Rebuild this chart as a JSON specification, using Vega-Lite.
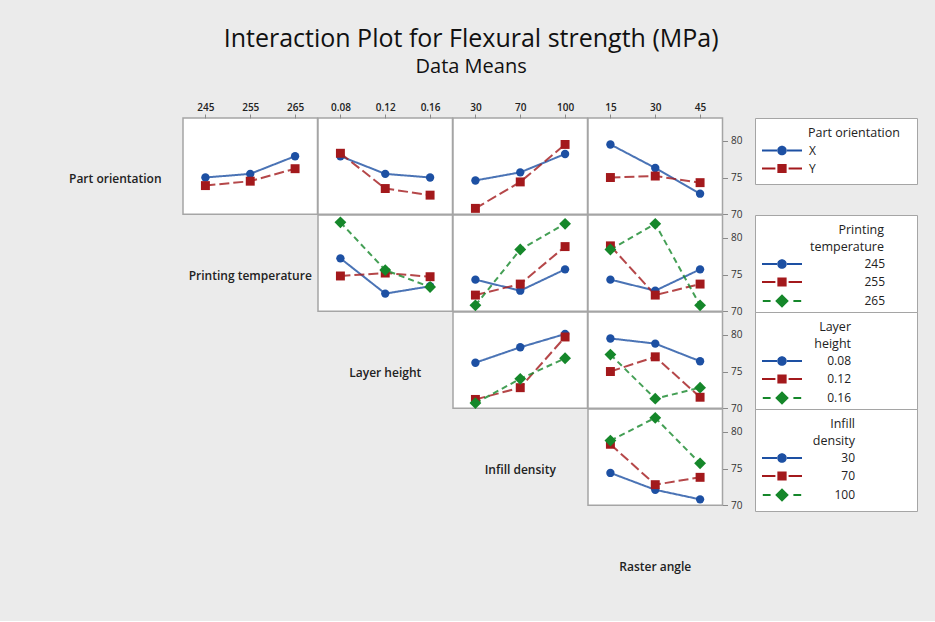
{
  "$schema": "https://vega.github.io/schema/vega-lite/v6.json",
  "background": "#ebebeb",
  "padding": {"left": 48, "top": 27, "right": 17, "bottom": 18},
  "title": {
    "text": "Interaction Plot for Flexural strength (MPa)",
    "subtitle": "Data Means",
    "font": "Open Sans",
    "fontSize": 25,
    "fontWeight": 500,
    "color": "#111111",
    "subtitleFont": "Open Sans",
    "subtitleFontSize": 20,
    "subtitleColor": "#111111",
    "subtitlePadding": 5,
    "anchor": "middle",
    "dx": -12,
    "offset": 24
  },
  "config": {
    "view": {"stroke": null},
    "font": "Open Sans",
    "axis": {
      "labelFont": "Open Sans",
      "labelFontSize": 10,
      "labelFontWeight": 600,
      "labelColor": "#222222",
      "tickColor": "#8a8a8a",
      "domain": false,
      "grid": false,
      "labelAngle": 0
    },
    "legend": {
      "orient": "right",
      "offset": 13,
      "padding": 9,
      "strokeColor": "#a5a5a5",
      "fillColor": "white",
      "symbolSize": 144,
      "symbolOffset": 12,
      "symbolStrokeWidth": 0,
      "titleFont": "Open Sans",
      "titleFontSize": 12.5,
      "titleFontWeight": "normal",
      "titleColor": "#222222",
      "titleAnchor": "start",
      "titleLineHeight": 16.5,
      "titlePadding": 5,
      "labelFont": "Open Sans",
      "labelFontSize": 12,
      "labelColor": "#222222",
      "rowPadding": 6
    }
  },
  "datasets": {
    "means": [
      {"lineFactor": "Part orientation", "xFactor": "Printing temperature", "level": "X", "setting": "245", "strength": 75.0},
      {"lineFactor": "Part orientation", "xFactor": "Printing temperature", "level": "X", "setting": "255", "strength": 75.5},
      {"lineFactor": "Part orientation", "xFactor": "Printing temperature", "level": "X", "setting": "265", "strength": 77.9},
      {"lineFactor": "Part orientation", "xFactor": "Printing temperature", "level": "Y", "setting": "245", "strength": 73.9},
      {"lineFactor": "Part orientation", "xFactor": "Printing temperature", "level": "Y", "setting": "255", "strength": 74.5},
      {"lineFactor": "Part orientation", "xFactor": "Printing temperature", "level": "Y", "setting": "265", "strength": 76.2},

      {"lineFactor": "Part orientation", "xFactor": "Layer height", "level": "X", "setting": "0.08", "strength": 77.9},
      {"lineFactor": "Part orientation", "xFactor": "Layer height", "level": "X", "setting": "0.12", "strength": 75.5},
      {"lineFactor": "Part orientation", "xFactor": "Layer height", "level": "X", "setting": "0.16", "strength": 75.0},
      {"lineFactor": "Part orientation", "xFactor": "Layer height", "level": "Y", "setting": "0.08", "strength": 78.3},
      {"lineFactor": "Part orientation", "xFactor": "Layer height", "level": "Y", "setting": "0.12", "strength": 73.5},
      {"lineFactor": "Part orientation", "xFactor": "Layer height", "level": "Y", "setting": "0.16", "strength": 72.6},

      {"lineFactor": "Part orientation", "xFactor": "Infill density", "level": "X", "setting": "30", "strength": 74.6},
      {"lineFactor": "Part orientation", "xFactor": "Infill density", "level": "X", "setting": "70", "strength": 75.7},
      {"lineFactor": "Part orientation", "xFactor": "Infill density", "level": "X", "setting": "100", "strength": 78.2},
      {"lineFactor": "Part orientation", "xFactor": "Infill density", "level": "Y", "setting": "30", "strength": 70.8},
      {"lineFactor": "Part orientation", "xFactor": "Infill density", "level": "Y", "setting": "70", "strength": 74.4},
      {"lineFactor": "Part orientation", "xFactor": "Infill density", "level": "Y", "setting": "100", "strength": 79.5},

      {"lineFactor": "Part orientation", "xFactor": "Raster angle", "level": "X", "setting": "15", "strength": 79.5},
      {"lineFactor": "Part orientation", "xFactor": "Raster angle", "level": "X", "setting": "30", "strength": 76.3},
      {"lineFactor": "Part orientation", "xFactor": "Raster angle", "level": "X", "setting": "45", "strength": 72.8},
      {"lineFactor": "Part orientation", "xFactor": "Raster angle", "level": "Y", "setting": "15", "strength": 75.0},
      {"lineFactor": "Part orientation", "xFactor": "Raster angle", "level": "Y", "setting": "30", "strength": 75.2},
      {"lineFactor": "Part orientation", "xFactor": "Raster angle", "level": "Y", "setting": "45", "strength": 74.3},

      {"lineFactor": "Printing temperature", "xFactor": "Layer height", "level": "245", "setting": "0.08", "strength": 77.2},
      {"lineFactor": "Printing temperature", "xFactor": "Layer height", "level": "245", "setting": "0.12", "strength": 72.4},
      {"lineFactor": "Printing temperature", "xFactor": "Layer height", "level": "245", "setting": "0.16", "strength": 73.4},
      {"lineFactor": "Printing temperature", "xFactor": "Layer height", "level": "255", "setting": "0.08", "strength": 74.8},
      {"lineFactor": "Printing temperature", "xFactor": "Layer height", "level": "255", "setting": "0.12", "strength": 75.2},
      {"lineFactor": "Printing temperature", "xFactor": "Layer height", "level": "255", "setting": "0.16", "strength": 74.7},
      {"lineFactor": "Printing temperature", "xFactor": "Layer height", "level": "265", "setting": "0.08", "strength": 82.1},
      {"lineFactor": "Printing temperature", "xFactor": "Layer height", "level": "265", "setting": "0.12", "strength": 75.6},
      {"lineFactor": "Printing temperature", "xFactor": "Layer height", "level": "265", "setting": "0.16", "strength": 73.3},

      {"lineFactor": "Printing temperature", "xFactor": "Infill density", "level": "245", "setting": "30", "strength": 74.3},
      {"lineFactor": "Printing temperature", "xFactor": "Infill density", "level": "245", "setting": "70", "strength": 72.8},
      {"lineFactor": "Printing temperature", "xFactor": "Infill density", "level": "245", "setting": "100", "strength": 75.7},
      {"lineFactor": "Printing temperature", "xFactor": "Infill density", "level": "255", "setting": "30", "strength": 72.2},
      {"lineFactor": "Printing temperature", "xFactor": "Infill density", "level": "255", "setting": "70", "strength": 73.7},
      {"lineFactor": "Printing temperature", "xFactor": "Infill density", "level": "255", "setting": "100", "strength": 78.8},
      {"lineFactor": "Printing temperature", "xFactor": "Infill density", "level": "265", "setting": "30", "strength": 70.8},
      {"lineFactor": "Printing temperature", "xFactor": "Infill density", "level": "265", "setting": "70", "strength": 78.4},
      {"lineFactor": "Printing temperature", "xFactor": "Infill density", "level": "265", "setting": "100", "strength": 81.9},

      {"lineFactor": "Printing temperature", "xFactor": "Raster angle", "level": "245", "setting": "15", "strength": 74.3},
      {"lineFactor": "Printing temperature", "xFactor": "Raster angle", "level": "245", "setting": "30", "strength": 72.8},
      {"lineFactor": "Printing temperature", "xFactor": "Raster angle", "level": "245", "setting": "45", "strength": 75.7},
      {"lineFactor": "Printing temperature", "xFactor": "Raster angle", "level": "255", "setting": "15", "strength": 78.9},
      {"lineFactor": "Printing temperature", "xFactor": "Raster angle", "level": "255", "setting": "30", "strength": 72.2},
      {"lineFactor": "Printing temperature", "xFactor": "Raster angle", "level": "255", "setting": "45", "strength": 73.7},
      {"lineFactor": "Printing temperature", "xFactor": "Raster angle", "level": "265", "setting": "15", "strength": 78.4},
      {"lineFactor": "Printing temperature", "xFactor": "Raster angle", "level": "265", "setting": "30", "strength": 81.9},
      {"lineFactor": "Printing temperature", "xFactor": "Raster angle", "level": "265", "setting": "45", "strength": 70.8},

      {"lineFactor": "Layer height", "xFactor": "Infill density", "level": "0.08", "setting": "30", "strength": 76.2},
      {"lineFactor": "Layer height", "xFactor": "Infill density", "level": "0.08", "setting": "70", "strength": 78.3},
      {"lineFactor": "Layer height", "xFactor": "Infill density", "level": "0.08", "setting": "100", "strength": 80.1},
      {"lineFactor": "Layer height", "xFactor": "Infill density", "level": "0.12", "setting": "30", "strength": 71.2},
      {"lineFactor": "Layer height", "xFactor": "Infill density", "level": "0.12", "setting": "70", "strength": 72.8},
      {"lineFactor": "Layer height", "xFactor": "Infill density", "level": "0.12", "setting": "100", "strength": 79.7},
      {"lineFactor": "Layer height", "xFactor": "Infill density", "level": "0.16", "setting": "30", "strength": 70.7},
      {"lineFactor": "Layer height", "xFactor": "Infill density", "level": "0.16", "setting": "70", "strength": 74.0},
      {"lineFactor": "Layer height", "xFactor": "Infill density", "level": "0.16", "setting": "100", "strength": 76.8},

      {"lineFactor": "Layer height", "xFactor": "Raster angle", "level": "0.08", "setting": "15", "strength": 79.5},
      {"lineFactor": "Layer height", "xFactor": "Raster angle", "level": "0.08", "setting": "30", "strength": 78.8},
      {"lineFactor": "Layer height", "xFactor": "Raster angle", "level": "0.08", "setting": "45", "strength": 76.4},
      {"lineFactor": "Layer height", "xFactor": "Raster angle", "level": "0.12", "setting": "15", "strength": 75.0},
      {"lineFactor": "Layer height", "xFactor": "Raster angle", "level": "0.12", "setting": "30", "strength": 77.0},
      {"lineFactor": "Layer height", "xFactor": "Raster angle", "level": "0.12", "setting": "45", "strength": 71.5},
      {"lineFactor": "Layer height", "xFactor": "Raster angle", "level": "0.16", "setting": "15", "strength": 77.3},
      {"lineFactor": "Layer height", "xFactor": "Raster angle", "level": "0.16", "setting": "30", "strength": 71.3},
      {"lineFactor": "Layer height", "xFactor": "Raster angle", "level": "0.16", "setting": "45", "strength": 72.8},

      {"lineFactor": "Infill density", "xFactor": "Raster angle", "level": "30", "setting": "15", "strength": 74.4},
      {"lineFactor": "Infill density", "xFactor": "Raster angle", "level": "30", "setting": "30", "strength": 72.1},
      {"lineFactor": "Infill density", "xFactor": "Raster angle", "level": "30", "setting": "45", "strength": 70.8},
      {"lineFactor": "Infill density", "xFactor": "Raster angle", "level": "70", "setting": "15", "strength": 78.3},
      {"lineFactor": "Infill density", "xFactor": "Raster angle", "level": "70", "setting": "30", "strength": 72.8},
      {"lineFactor": "Infill density", "xFactor": "Raster angle", "level": "70", "setting": "45", "strength": 73.8},
      {"lineFactor": "Infill density", "xFactor": "Raster angle", "level": "100", "setting": "15", "strength": 78.8},
      {"lineFactor": "Infill density", "xFactor": "Raster angle", "level": "100", "setting": "30", "strength": 81.9},
      {"lineFactor": "Infill density", "xFactor": "Raster angle", "level": "100", "setting": "45", "strength": 75.7}
    ]
  },
  "columns": 5,
  "spacing": 0,
  "bounds": "flush",
  "resolve": {"scale": {"x": "independent", "y": "independent", "color": "independent"}},
  "concat": [
    {"width": 134.5, "height": 96.25, "data": {"values": [{"name": "Part orientation"}]}, "mark": {"type": "text", "fontSize": 12, "fontWeight": 600, "color": "#222222", "dy": 13}, "encoding": {"text": {"field": "name"}}},
    {
      "width": 134.5, "height": 96.25,
      "view": {"fill": "white", "stroke": "#a5a5a5", "strokeWidth": 1.5},
      "data": {"name": "means"},
      "transform": [{"filter": "datum.lineFactor === 'Part orientation' && datum.xFactor === 'Printing temperature'"}],
      "encoding": {
        "x": {"field": "setting", "type": "ordinal", "scale": {"type": "point", "padding": 0.5, "domain": ["245", "255", "265"]}, "axis": {"orient": "top", "title": null, "tickSize": 4, "labelPadding": 2}},
        "y": {"field": "strength", "type": "quantitative", "scale": {"domain": [70, 83.1], "nice": false, "zero": false}, "axis": null},
        "color": {"field": "level", "type": "nominal", "scale": {"domain": ["X", "Y"], "range": ["#1d50a3", "#a3191c"]}, "legend": null}
      },
      "layer": [
        {"mark": {"type": "line", "strokeWidth": 2, "opacity": 0.8}, "encoding": {"strokeDash": {"condition": [{"test": "indexof(['Y', '255', '0.12', '70'], datum.level) >= 0", "value": [10, 4]}, {"test": "indexof(['265', '0.16', '100'], datum.level) >= 0", "value": [6, 4]}], "value": [1, 0]}}},
        {"mark": {"type": "point", "filled": true, "opacity": 1}, "encoding": {"shape": {"condition": [{"test": "indexof(['Y', '255', '0.12', '70'], datum.level) >= 0", "value": "square"}, {"test": "indexof(['265', '0.16', '100'], datum.level) >= 0", "value": "diamond"}], "value": "circle"}, "size": {"condition": [{"test": "indexof(['Y', '255', '0.12', '70'], datum.level) >= 0", "value": 80}, {"test": "indexof(['265', '0.16', '100'], datum.level) >= 0", "value": 140}], "value": 70}}}
      ]
    },
    {
      "width": 134.5, "height": 96.25,
      "view": {"fill": "white", "stroke": "#a5a5a5", "strokeWidth": 1.5},
      "data": {"name": "means"},
      "transform": [{"filter": "datum.lineFactor === 'Part orientation' && datum.xFactor === 'Layer height'"}],
      "encoding": {
        "x": {"field": "setting", "type": "ordinal", "scale": {"type": "point", "padding": 0.5, "domain": ["0.08", "0.12", "0.16"]}, "axis": {"orient": "top", "title": null, "tickSize": 4, "labelPadding": 2}},
        "y": {"field": "strength", "type": "quantitative", "scale": {"domain": [70, 83.1], "nice": false, "zero": false}, "axis": null},
        "color": {"field": "level", "type": "nominal", "scale": {"domain": ["X", "Y"], "range": ["#1d50a3", "#a3191c"]}, "legend": null}
      },
      "layer": [
        {"mark": {"type": "line", "strokeWidth": 2, "opacity": 0.8}, "encoding": {"strokeDash": {"condition": [{"test": "indexof(['Y', '255', '0.12', '70'], datum.level) >= 0", "value": [10, 4]}, {"test": "indexof(['265', '0.16', '100'], datum.level) >= 0", "value": [6, 4]}], "value": [1, 0]}}},
        {"mark": {"type": "point", "filled": true, "opacity": 1}, "encoding": {"shape": {"condition": [{"test": "indexof(['Y', '255', '0.12', '70'], datum.level) >= 0", "value": "square"}, {"test": "indexof(['265', '0.16', '100'], datum.level) >= 0", "value": "diamond"}], "value": "circle"}, "size": {"condition": [{"test": "indexof(['Y', '255', '0.12', '70'], datum.level) >= 0", "value": 80}, {"test": "indexof(['265', '0.16', '100'], datum.level) >= 0", "value": 140}], "value": 70}}}
      ]
    },
    {
      "width": 134.5, "height": 96.25,
      "view": {"fill": "white", "stroke": "#a5a5a5", "strokeWidth": 1.5},
      "data": {"name": "means"},
      "transform": [{"filter": "datum.lineFactor === 'Part orientation' && datum.xFactor === 'Infill density'"}],
      "encoding": {
        "x": {"field": "setting", "type": "ordinal", "scale": {"type": "point", "padding": 0.5, "domain": ["30", "70", "100"]}, "axis": {"orient": "top", "title": null, "tickSize": 4, "labelPadding": 2}},
        "y": {"field": "strength", "type": "quantitative", "scale": {"domain": [70, 83.1], "nice": false, "zero": false}, "axis": null},
        "color": {"field": "level", "type": "nominal", "scale": {"domain": ["X", "Y"], "range": ["#1d50a3", "#a3191c"]}, "legend": null}
      },
      "layer": [
        {"mark": {"type": "line", "strokeWidth": 2, "opacity": 0.8}, "encoding": {"strokeDash": {"condition": [{"test": "indexof(['Y', '255', '0.12', '70'], datum.level) >= 0", "value": [10, 4]}, {"test": "indexof(['265', '0.16', '100'], datum.level) >= 0", "value": [6, 4]}], "value": [1, 0]}}},
        {"mark": {"type": "point", "filled": true, "opacity": 1}, "encoding": {"shape": {"condition": [{"test": "indexof(['Y', '255', '0.12', '70'], datum.level) >= 0", "value": "square"}, {"test": "indexof(['265', '0.16', '100'], datum.level) >= 0", "value": "diamond"}], "value": "circle"}, "size": {"condition": [{"test": "indexof(['Y', '255', '0.12', '70'], datum.level) >= 0", "value": 80}, {"test": "indexof(['265', '0.16', '100'], datum.level) >= 0", "value": 140}], "value": 70}}}
      ]
    },
    {
      "width": 134.5, "height": 96.25,
      "view": {"fill": "white", "stroke": "#a5a5a5", "strokeWidth": 1.5},
      "data": {"name": "means"},
      "transform": [{"filter": "datum.lineFactor === 'Part orientation' && datum.xFactor === 'Raster angle'"}],
      "encoding": {
        "x": {"field": "setting", "type": "ordinal", "scale": {"type": "point", "padding": 0.5, "domain": ["15", "30", "45"]}, "axis": {"orient": "top", "title": null, "tickSize": 4, "labelPadding": 2}},
        "y": {"field": "strength", "type": "quantitative", "scale": {"domain": [70, 83.1], "nice": false, "zero": false}, "axis": {"orient": "right", "title": null, "values": [70, 75, 80], "tickSize": 5, "labelPadding": 3, "labelFontWeight": "normal", "labelColor": "#333333"}},
        "color": {
          "field": "level", "type": "nominal",
          "scale": {"domain": ["X", "Y"], "range": ["#1d50a3", "#a3191c"]},
          "legend": {
            "title": "Part orientation",
            "titleAlign": "left",
            "labelAlign": "left",
            "labelOffset": 21,
            "encoding": {
              "title": {"dx": {"value": 44}},
              "symbols": {
                "shape": {"value": {"signal": "['M-3.333,-0.167H-0.833V0.167H-3.333Z M0.833,-0.167H3.333V0.167H0.833Z M-0.8,0A0.8,0.8,0,1,1,0.8,0A0.8,0.8,0,1,1,-0.8,0Z M21,0Z', 'M-3.333,-0.167H-1.1V0.167H-3.333Z M1.1,-0.167H3.333V0.167H1.1Z M-0.77,-0.77H0.77V0.77H-0.77Z M21,0Z', 'M-3.2,-0.167H-1.9V0.167H-3.2Z M1.9,-0.167H3.2V0.167H1.9Z M0,-1.133L1.133,0L0,1.133L-1.133,0Z M21,0Z'][datum.index]"}},
                "fill": {"value": {"signal": "['#1d50a3', '#a3191c', '#15872a'][datum.index]"}},
                "stroke": {"value": "transparent"},
                "strokeWidth": {"value": 0},
                "opacity": {"value": 1}
              }
            }
          }
        }
      },
      "layer": [
        {"mark": {"type": "line", "strokeWidth": 2, "opacity": 0.8}, "encoding": {"strokeDash": {"condition": [{"test": "indexof(['Y', '255', '0.12', '70'], datum.level) >= 0", "value": [10, 4]}, {"test": "indexof(['265', '0.16', '100'], datum.level) >= 0", "value": [6, 4]}], "value": [1, 0]}}},
        {"mark": {"type": "point", "filled": true, "opacity": 1}, "encoding": {"shape": {"condition": [{"test": "indexof(['Y', '255', '0.12', '70'], datum.level) >= 0", "value": "square"}, {"test": "indexof(['265', '0.16', '100'], datum.level) >= 0", "value": "diamond"}], "value": "circle"}, "size": {"condition": [{"test": "indexof(['Y', '255', '0.12', '70'], datum.level) >= 0", "value": 80}, {"test": "indexof(['265', '0.16', '100'], datum.level) >= 0", "value": 140}], "value": 70}}}
      ]
    },

    {"width": 134.5, "height": 96.25, "data": {"values": []}, "mark": "text"},
    {"width": 134.5, "height": 96.25, "data": {"values": [{"name": "Printing temperature"}]}, "mark": {"type": "text", "fontSize": 12, "fontWeight": 600, "color": "#222222", "dy": 13}, "encoding": {"text": {"field": "name"}}},
    {
      "width": 134.5, "height": 96.25,
      "view": {"fill": "white", "stroke": "#a5a5a5", "strokeWidth": 1.5},
      "data": {"name": "means"},
      "transform": [{"filter": "datum.lineFactor === 'Printing temperature' && datum.xFactor === 'Layer height'"}],
      "encoding": {
        "x": {"field": "setting", "type": "ordinal", "scale": {"type": "point", "padding": 0.5, "domain": ["0.08", "0.12", "0.16"]}, "axis": null},
        "y": {"field": "strength", "type": "quantitative", "scale": {"domain": [70, 83.1], "nice": false, "zero": false}, "axis": null},
        "color": {"field": "level", "type": "nominal", "scale": {"domain": ["245", "255", "265"], "range": ["#1d50a3", "#a3191c", "#15872a"]}, "legend": null}
      },
      "layer": [
        {"mark": {"type": "line", "strokeWidth": 2, "opacity": 0.8}, "encoding": {"strokeDash": {"condition": [{"test": "indexof(['Y', '255', '0.12', '70'], datum.level) >= 0", "value": [10, 4]}, {"test": "indexof(['265', '0.16', '100'], datum.level) >= 0", "value": [6, 4]}], "value": [1, 0]}}},
        {"mark": {"type": "point", "filled": true, "opacity": 1}, "encoding": {"shape": {"condition": [{"test": "indexof(['Y', '255', '0.12', '70'], datum.level) >= 0", "value": "square"}, {"test": "indexof(['265', '0.16', '100'], datum.level) >= 0", "value": "diamond"}], "value": "circle"}, "size": {"condition": [{"test": "indexof(['Y', '255', '0.12', '70'], datum.level) >= 0", "value": 80}, {"test": "indexof(['265', '0.16', '100'], datum.level) >= 0", "value": 140}], "value": 70}}}
      ]
    },
    {
      "width": 134.5, "height": 96.25,
      "view": {"fill": "white", "stroke": "#a5a5a5", "strokeWidth": 1.5},
      "data": {"name": "means"},
      "transform": [{"filter": "datum.lineFactor === 'Printing temperature' && datum.xFactor === 'Infill density'"}],
      "encoding": {
        "x": {"field": "setting", "type": "ordinal", "scale": {"type": "point", "padding": 0.5, "domain": ["30", "70", "100"]}, "axis": null},
        "y": {"field": "strength", "type": "quantitative", "scale": {"domain": [70, 83.1], "nice": false, "zero": false}, "axis": null},
        "color": {"field": "level", "type": "nominal", "scale": {"domain": ["245", "255", "265"], "range": ["#1d50a3", "#a3191c", "#15872a"]}, "legend": null}
      },
      "layer": [
        {"mark": {"type": "line", "strokeWidth": 2, "opacity": 0.8}, "encoding": {"strokeDash": {"condition": [{"test": "indexof(['Y', '255', '0.12', '70'], datum.level) >= 0", "value": [10, 4]}, {"test": "indexof(['265', '0.16', '100'], datum.level) >= 0", "value": [6, 4]}], "value": [1, 0]}}},
        {"mark": {"type": "point", "filled": true, "opacity": 1}, "encoding": {"shape": {"condition": [{"test": "indexof(['Y', '255', '0.12', '70'], datum.level) >= 0", "value": "square"}, {"test": "indexof(['265', '0.16', '100'], datum.level) >= 0", "value": "diamond"}], "value": "circle"}, "size": {"condition": [{"test": "indexof(['Y', '255', '0.12', '70'], datum.level) >= 0", "value": 80}, {"test": "indexof(['265', '0.16', '100'], datum.level) >= 0", "value": 140}], "value": 70}}}
      ]
    },
    {
      "width": 134.5, "height": 96.25,
      "view": {"fill": "white", "stroke": "#a5a5a5", "strokeWidth": 1.5},
      "data": {"name": "means"},
      "transform": [{"filter": "datum.lineFactor === 'Printing temperature' && datum.xFactor === 'Raster angle'"}],
      "encoding": {
        "x": {"field": "setting", "type": "ordinal", "scale": {"type": "point", "padding": 0.5, "domain": ["15", "30", "45"]}, "axis": null},
        "y": {"field": "strength", "type": "quantitative", "scale": {"domain": [70, 83.1], "nice": false, "zero": false}, "axis": {"orient": "right", "title": null, "values": [70, 75, 80], "tickSize": 5, "labelPadding": 3, "labelFontWeight": "normal", "labelColor": "#333333"}},
        "color": {
          "field": "level", "type": "nominal",
          "scale": {"domain": ["245", "255", "265"], "range": ["#1d50a3", "#a3191c", "#15872a"]},
          "legend": {
            "title": ["Printing", "temperature"],
            "titleAlign": "right",
            "labelAlign": "right",
            "labelOffset": 97,
            "encoding": {
              "title": {"dx": {"value": 120}},
              "symbols": {
                "shape": {"value": {"signal": "['M-3.333,-0.167H-0.833V0.167H-3.333Z M0.833,-0.167H3.333V0.167H0.833Z M-0.8,0A0.8,0.8,0,1,1,0.8,0A0.8,0.8,0,1,1,-0.8,0Z M21,0Z', 'M-3.333,-0.167H-1.1V0.167H-3.333Z M1.1,-0.167H3.333V0.167H1.1Z M-0.77,-0.77H0.77V0.77H-0.77Z M21,0Z', 'M-3.2,-0.167H-1.9V0.167H-3.2Z M1.9,-0.167H3.2V0.167H1.9Z M0,-1.133L1.133,0L0,1.133L-1.133,0Z M21,0Z'][datum.index]"}},
                "fill": {"value": {"signal": "['#1d50a3', '#a3191c', '#15872a'][datum.index]"}},
                "stroke": {"value": "transparent"},
                "strokeWidth": {"value": 0},
                "opacity": {"value": 1}
              }
            }
          }
        }
      },
      "layer": [
        {"mark": {"type": "line", "strokeWidth": 2, "opacity": 0.8}, "encoding": {"strokeDash": {"condition": [{"test": "indexof(['Y', '255', '0.12', '70'], datum.level) >= 0", "value": [10, 4]}, {"test": "indexof(['265', '0.16', '100'], datum.level) >= 0", "value": [6, 4]}], "value": [1, 0]}}},
        {"mark": {"type": "point", "filled": true, "opacity": 1}, "encoding": {"shape": {"condition": [{"test": "indexof(['Y', '255', '0.12', '70'], datum.level) >= 0", "value": "square"}, {"test": "indexof(['265', '0.16', '100'], datum.level) >= 0", "value": "diamond"}], "value": "circle"}, "size": {"condition": [{"test": "indexof(['Y', '255', '0.12', '70'], datum.level) >= 0", "value": 80}, {"test": "indexof(['265', '0.16', '100'], datum.level) >= 0", "value": 140}], "value": 70}}}
      ]
    },

    {"width": 134.5, "height": 96.25, "data": {"values": []}, "mark": "text"},
    {"width": 134.5, "height": 96.25, "data": {"values": []}, "mark": "text"},
    {"width": 134.5, "height": 96.25, "data": {"values": [{"name": "Layer height"}]}, "mark": {"type": "text", "fontSize": 12, "fontWeight": 600, "color": "#222222", "dy": 13}, "encoding": {"text": {"field": "name"}}},
    {
      "width": 134.5, "height": 96.25,
      "view": {"fill": "white", "stroke": "#a5a5a5", "strokeWidth": 1.5},
      "data": {"name": "means"},
      "transform": [{"filter": "datum.lineFactor === 'Layer height' && datum.xFactor === 'Infill density'"}],
      "encoding": {
        "x": {"field": "setting", "type": "ordinal", "scale": {"type": "point", "padding": 0.5, "domain": ["30", "70", "100"]}, "axis": null},
        "y": {"field": "strength", "type": "quantitative", "scale": {"domain": [70, 83.1], "nice": false, "zero": false}, "axis": null},
        "color": {"field": "level", "type": "nominal", "scale": {"domain": ["0.08", "0.12", "0.16"], "range": ["#1d50a3", "#a3191c", "#15872a"]}, "legend": null}
      },
      "layer": [
        {"mark": {"type": "line", "strokeWidth": 2, "opacity": 0.8}, "encoding": {"strokeDash": {"condition": [{"test": "indexof(['Y', '255', '0.12', '70'], datum.level) >= 0", "value": [10, 4]}, {"test": "indexof(['265', '0.16', '100'], datum.level) >= 0", "value": [6, 4]}], "value": [1, 0]}}},
        {"mark": {"type": "point", "filled": true, "opacity": 1}, "encoding": {"shape": {"condition": [{"test": "indexof(['Y', '255', '0.12', '70'], datum.level) >= 0", "value": "square"}, {"test": "indexof(['265', '0.16', '100'], datum.level) >= 0", "value": "diamond"}], "value": "circle"}, "size": {"condition": [{"test": "indexof(['Y', '255', '0.12', '70'], datum.level) >= 0", "value": 80}, {"test": "indexof(['265', '0.16', '100'], datum.level) >= 0", "value": 140}], "value": 70}}}
      ]
    },
    {
      "width": 134.5, "height": 96.25,
      "view": {"fill": "white", "stroke": "#a5a5a5", "strokeWidth": 1.5},
      "data": {"name": "means"},
      "transform": [{"filter": "datum.lineFactor === 'Layer height' && datum.xFactor === 'Raster angle'"}],
      "encoding": {
        "x": {"field": "setting", "type": "ordinal", "scale": {"type": "point", "padding": 0.5, "domain": ["15", "30", "45"]}, "axis": null},
        "y": {"field": "strength", "type": "quantitative", "scale": {"domain": [70, 83.1], "nice": false, "zero": false}, "axis": {"orient": "right", "title": null, "values": [70, 75, 80], "tickSize": 5, "labelPadding": 3, "labelFontWeight": "normal", "labelColor": "#333333"}},
        "color": {
          "field": "level", "type": "nominal",
          "scale": {"domain": ["0.08", "0.12", "0.16"], "range": ["#1d50a3", "#a3191c", "#15872a"]},
          "legend": {
            "title": ["Layer", "height"],
            "titleAlign": "right",
            "labelAlign": "right",
            "labelOffset": 63,
            "encoding": {
              "title": {"dx": {"value": 87}},
              "symbols": {
                "shape": {"value": {"signal": "['M-3.333,-0.167H-0.833V0.167H-3.333Z M0.833,-0.167H3.333V0.167H0.833Z M-0.8,0A0.8,0.8,0,1,1,0.8,0A0.8,0.8,0,1,1,-0.8,0Z M21,0Z', 'M-3.333,-0.167H-1.1V0.167H-3.333Z M1.1,-0.167H3.333V0.167H1.1Z M-0.77,-0.77H0.77V0.77H-0.77Z M21,0Z', 'M-3.2,-0.167H-1.9V0.167H-3.2Z M1.9,-0.167H3.2V0.167H1.9Z M0,-1.133L1.133,0L0,1.133L-1.133,0Z M21,0Z'][datum.index]"}},
                "fill": {"value": {"signal": "['#1d50a3', '#a3191c', '#15872a'][datum.index]"}},
                "stroke": {"value": "transparent"},
                "strokeWidth": {"value": 0},
                "opacity": {"value": 1}
              }
            }
          }
        }
      },
      "layer": [
        {"mark": {"type": "line", "strokeWidth": 2, "opacity": 0.8}, "encoding": {"strokeDash": {"condition": [{"test": "indexof(['Y', '255', '0.12', '70'], datum.level) >= 0", "value": [10, 4]}, {"test": "indexof(['265', '0.16', '100'], datum.level) >= 0", "value": [6, 4]}], "value": [1, 0]}}},
        {"mark": {"type": "point", "filled": true, "opacity": 1}, "encoding": {"shape": {"condition": [{"test": "indexof(['Y', '255', '0.12', '70'], datum.level) >= 0", "value": "square"}, {"test": "indexof(['265', '0.16', '100'], datum.level) >= 0", "value": "diamond"}], "value": "circle"}, "size": {"condition": [{"test": "indexof(['Y', '255', '0.12', '70'], datum.level) >= 0", "value": 80}, {"test": "indexof(['265', '0.16', '100'], datum.level) >= 0", "value": 140}], "value": 70}}}
      ]
    },

    {"width": 134.5, "height": 96.25, "data": {"values": []}, "mark": "text"},
    {"width": 134.5, "height": 96.25, "data": {"values": []}, "mark": "text"},
    {"width": 134.5, "height": 96.25, "data": {"values": []}, "mark": "text"},
    {"width": 134.5, "height": 96.25, "data": {"values": [{"name": "Infill density"}]}, "mark": {"type": "text", "fontSize": 12, "fontWeight": 600, "color": "#222222", "dy": 13}, "encoding": {"text": {"field": "name"}}},
    {
      "width": 134.5, "height": 96.25,
      "view": {"fill": "white", "stroke": "#a5a5a5", "strokeWidth": 1.5},
      "data": {"name": "means"},
      "transform": [{"filter": "datum.lineFactor === 'Infill density' && datum.xFactor === 'Raster angle'"}],
      "encoding": {
        "x": {"field": "setting", "type": "ordinal", "scale": {"type": "point", "padding": 0.5, "domain": ["15", "30", "45"]}, "axis": null},
        "y": {"field": "strength", "type": "quantitative", "scale": {"domain": [70, 83.1], "nice": false, "zero": false}, "axis": {"orient": "right", "title": null, "values": [70, 75, 80], "tickSize": 5, "labelPadding": 3, "labelFontWeight": "normal", "labelColor": "#333333"}},
        "color": {
          "field": "level", "type": "nominal",
          "scale": {"domain": ["30", "70", "100"], "range": ["#1d50a3", "#a3191c", "#15872a"]},
          "legend": {
            "title": ["Infill", "density"],
            "titleAlign": "right",
            "labelAlign": "right",
            "labelOffset": 67,
            "encoding": {
              "title": {"dx": {"value": 91}},
              "symbols": {
                "shape": {"value": {"signal": "['M-3.333,-0.167H-0.833V0.167H-3.333Z M0.833,-0.167H3.333V0.167H0.833Z M-0.8,0A0.8,0.8,0,1,1,0.8,0A0.8,0.8,0,1,1,-0.8,0Z M21,0Z', 'M-3.333,-0.167H-1.1V0.167H-3.333Z M1.1,-0.167H3.333V0.167H1.1Z M-0.77,-0.77H0.77V0.77H-0.77Z M21,0Z', 'M-3.2,-0.167H-1.9V0.167H-3.2Z M1.9,-0.167H3.2V0.167H1.9Z M0,-1.133L1.133,0L0,1.133L-1.133,0Z M21,0Z'][datum.index]"}},
                "fill": {"value": {"signal": "['#1d50a3', '#a3191c', '#15872a'][datum.index]"}},
                "stroke": {"value": "transparent"},
                "strokeWidth": {"value": 0},
                "opacity": {"value": 1}
              }
            }
          }
        }
      },
      "layer": [
        {"mark": {"type": "line", "strokeWidth": 2, "opacity": 0.8}, "encoding": {"strokeDash": {"condition": [{"test": "indexof(['Y', '255', '0.12', '70'], datum.level) >= 0", "value": [10, 4]}, {"test": "indexof(['265', '0.16', '100'], datum.level) >= 0", "value": [6, 4]}], "value": [1, 0]}}},
        {"mark": {"type": "point", "filled": true, "opacity": 1}, "encoding": {"shape": {"condition": [{"test": "indexof(['Y', '255', '0.12', '70'], datum.level) >= 0", "value": "square"}, {"test": "indexof(['265', '0.16', '100'], datum.level) >= 0", "value": "diamond"}], "value": "circle"}, "size": {"condition": [{"test": "indexof(['Y', '255', '0.12', '70'], datum.level) >= 0", "value": 80}, {"test": "indexof(['265', '0.16', '100'], datum.level) >= 0", "value": 140}], "value": 70}}}
      ]
    },

    {"width": 134.5, "height": 96.25, "data": {"values": []}, "mark": "text"},
    {"width": 134.5, "height": 96.25, "data": {"values": []}, "mark": "text"},
    {"width": 134.5, "height": 96.25, "data": {"values": []}, "mark": "text"},
    {"width": 134.5, "height": 96.25, "data": {"values": []}, "mark": "text"},
    {"width": 134.5, "height": 96.25, "data": {"values": [{"name": "Raster angle"}]}, "mark": {"type": "text", "fontSize": 12, "fontWeight": 600, "color": "#222222", "dy": 13}, "encoding": {"text": {"field": "name"}}}
  ]
}
